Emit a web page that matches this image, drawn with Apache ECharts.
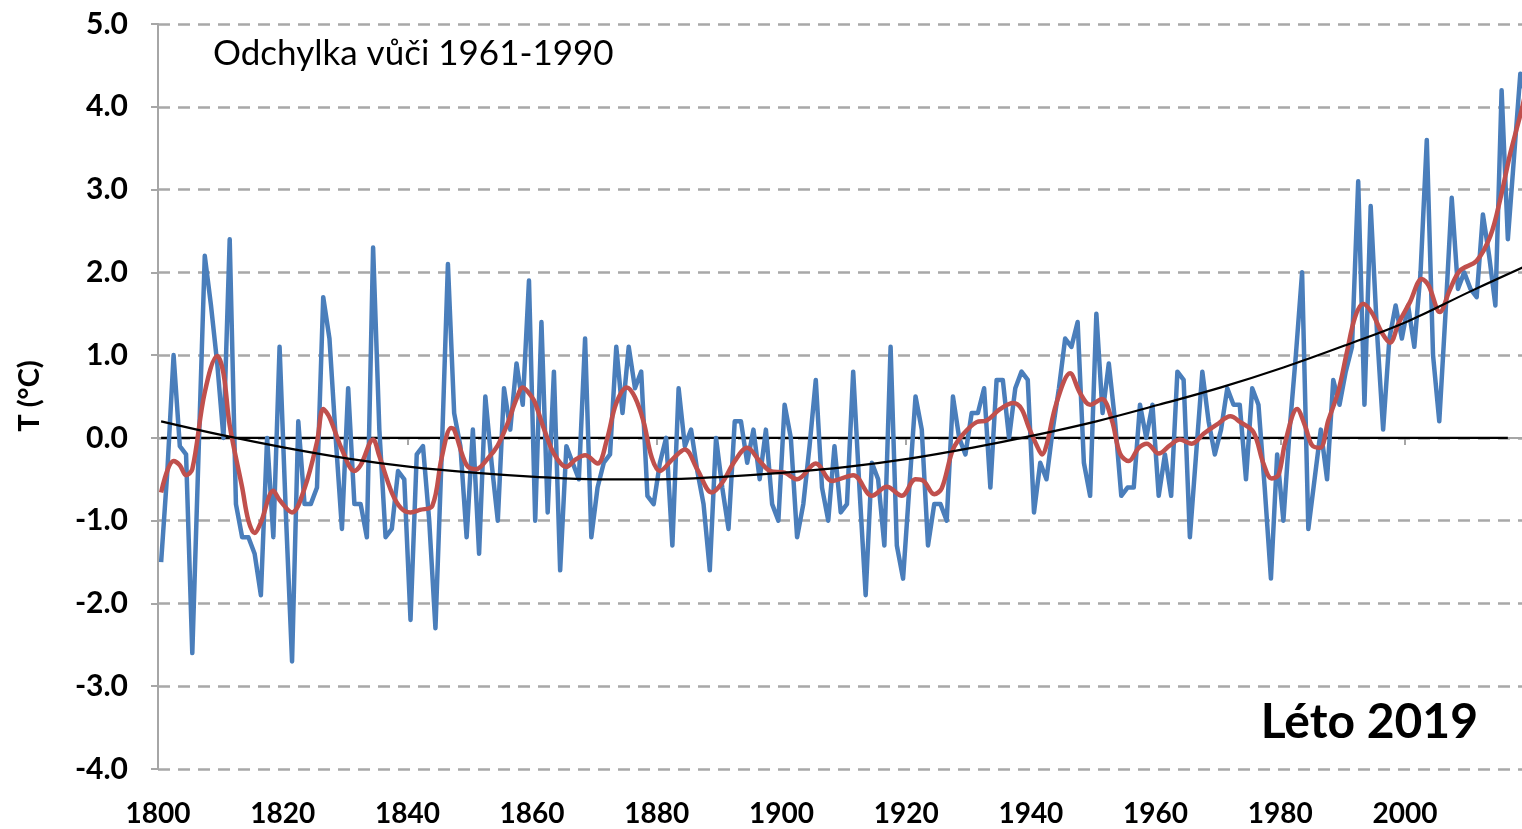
<!DOCTYPE html>
<html>
<head>
<meta charset="utf-8">
<script src="https://cdn.jsdelivr.net/npm/echarts@6/dist/echarts.min.js"></script>
<style>
  html, body { margin: 0; padding: 0; background: #ffffff; overflow: hidden; }
  #chart { width: 1522px; height: 829px; }
</style>
</head>
<body>
<div id="chart"></div>
<script>
// Summer temperature anomaly (°C) relative to 1961-1990, one value per year from 1800
const firstYear = 1800;
const summerAnomaly = [
  -1.5, -0.4, 1.0, -0.1, -0.2, -2.6, -0.2, 2.2, 1.6, 0.9,
  0.0, 2.4, -0.8, -1.2, -1.2, -1.4, -1.9, 0.0, -1.2, 1.1,
  -0.9, -2.7, 0.2, -0.8, -0.8, -0.6, 1.7, 1.2, 0.0, -1.1,
  0.6, -0.8, -0.8, -1.2, 2.3, 0.1, -1.2, -1.1, -0.4, -0.5,
  -2.2, -0.2, -0.1, -1.0, -2.3, -0.2, 2.1, 0.3, -0.1, -1.2,
  0.1, -1.4, 0.5, -0.3, -1.0, 0.6, 0.1, 0.9, 0.4, 1.9,
  -1.0, 1.4, -0.9, 0.8, -1.6, -0.1, -0.3, -0.5, 1.2, -1.2,
  -0.6, -0.3, -0.2, 1.1, 0.3, 1.1, 0.6, 0.8, -0.7, -0.8,
  -0.3, 0.0, -1.3, 0.6, -0.1, 0.1, -0.4, -0.8, -1.6, 0.0,
  -0.6, -1.1, 0.2, 0.2, -0.3, 0.1, -0.5, 0.1, -0.8, -1.0,
  0.4, 0.0, -1.2, -0.8, -0.1, 0.7, -0.6, -1.0, -0.1, -0.9,
  -0.8, 0.8, -0.6, -1.9, -0.3, -0.5, -1.3, 1.1, -1.3, -1.7,
  -0.6, 0.5, 0.1, -1.3, -0.8, -0.8, -1.0, 0.5, 0.0, -0.2,
  0.3, 0.3, 0.6, -0.6, 0.7, 0.7, 0.0, 0.6, 0.8, 0.7,
  -0.9, -0.3, -0.5, 0.1, 0.6, 1.2, 1.1, 1.4, -0.3, -0.7,
  1.5, 0.3, 0.9, 0.2, -0.7, -0.6, -0.6, 0.4, 0.0, 0.4,
  -0.7, -0.2, -0.7, 0.8, 0.7, -1.2, -0.2, 0.8, 0.2, -0.2,
  0.1, 0.6, 0.4, 0.4, -0.5, 0.6, 0.4, -0.6, -1.7, -0.2,
  -1.0, 0.1, 1.0, 2.0, -1.1, -0.5, 0.1, -0.5, 0.7, 0.4,
  0.8, 1.1, 3.1, 0.4, 2.8, 1.3, 0.1, 1.2, 1.6, 1.2,
  1.6, 1.1, 2.0, 3.6, 1.0, 0.2, 1.5, 2.9, 1.8, 2.0,
  1.8, 1.7, 2.7, 2.2, 1.6, 4.2, 2.4, 3.4, 4.4, 4.1
];

// Smoothed (low-pass filtered) anomaly, read at these years
const smoothYears = [
  1800, 1802, 1803, 1804, 1805, 1807, 1809, 1810, 1811, 1813, 1814, 1815, 1816, 1818, 1819,
  1821, 1823, 1825, 1826, 1827, 1829, 1831, 1832, 1834, 1835, 1837, 1838.5, 1840, 1841.5, 1843.5,
  1845, 1846.5, 1847, 1849, 1850.5, 1852.5, 1854, 1855.5, 1857, 1858, 1859.5, 1860, 1861.5, 1863,
  1865, 1866.5, 1868, 1870, 1871.5, 1873, 1874.7, 1876, 1877.4, 1878.7, 1880, 1882, 1884, 1886,
  1888.3, 1890, 1892, 1894, 1896, 1897.7, 1900, 1902, 1905, 1907.6, 1911, 1914, 1916.4, 1918.8,
  1921, 1922.3, 1924, 1925.2, 1927, 1928.7, 1930.8, 1932.4, 1934.6, 1936.7, 1938, 1939.1, 1940.5,
  1941.3, 1942, 1943.6, 1945.8, 1947.4, 1949, 1950.9, 1952.5, 1953.8, 1955.2, 1956.8, 1958.1, 1960,
  1961.8, 1963.4, 1965.3, 1967.2, 1969.3, 1971.5, 1973.1, 1975.2, 1976.8, 1978.1, 1979.2, 1980.3,
  1982.2, 1983.5, 1984.6, 1985.9, 1987.2, 1988.8, 1990.2, 1991.5, 1992.8, 1994.2, 1995.8, 1997.1,
  1998.5, 2000.3, 2002.2, 2003.3, 2005.1, 2006.7, 2008.3, 2011, 2013.2, 2014.8, 2016.4, 2018.3, 2019
];
const smoothValues = [
  -0.66, -0.28, -0.33, -0.45, -0.38, 0.55, 0.99, 0.78, 0.15, -0.6, -1.0, -1.15, -1.02, -0.64, -0.75,
  -0.9, -0.61, -0.05, 0.35, 0.25, -0.14, -0.4, -0.33, -0.02, -0.22, -0.66, -0.85, -0.9, -0.87, -0.82,
  -0.24, 0.12, 0.1, -0.33, -0.38, -0.24, -0.09, 0.16, 0.47, 0.61, 0.49, 0.42, 0.09, -0.19,
  -0.35, -0.26, -0.21, -0.31, -0.02, 0.42, 0.61, 0.49, 0.19, -0.24, -0.4, -0.26, -0.14, -0.38,
  -0.66, -0.54, -0.28, -0.12, -0.28, -0.4, -0.42, -0.5, -0.31, -0.52, -0.45, -0.7, -0.59, -0.7,
  -0.5, -0.52, -0.68, -0.61, -0.14, 0.05, 0.19, 0.21, 0.35, 0.42, 0.35, 0.14, -0.1,
  -0.2, -0.09, 0.42, 0.78, 0.54, 0.4, 0.47, 0.21, -0.19, -0.28, -0.12, -0.07, -0.19,
  -0.09, -0.02, -0.07, 0.05, 0.16, 0.26, 0.19, 0.07, -0.31, -0.49, -0.45, -0.05,
  0.35, 0.14, -0.09, -0.12, 0.21, 0.56, 1.04, 1.46, 1.62, 1.51, 1.27, 1.15,
  1.39, 1.64, 1.92, 1.84, 1.52, 1.79, 2.02, 2.14, 2.44, 2.89, 3.44, 3.99, 4.25
];

// Long-term polynomial trend, read every ten years
const trendYears  = [1800, 1810, 1820, 1830, 1840, 1850, 1860, 1870, 1880, 1890, 1900, 1910,
                     1920, 1930, 1940, 1950, 1960, 1970, 1980, 1990, 2000, 2010, 2019];
const trendValues = [0.2, 0.03, -0.12, -0.25, -0.35, -0.42, -0.47, -0.5, -0.5, -0.47, -0.42, -0.35,
                     -0.25, -0.12, 0.03, 0.2, 0.4, 0.61, 0.85, 1.12, 1.41, 1.77, 2.08];

// Reference (zero) line span
const zeroYears = [1800, 2016];

// Axis labels
const xTickYears = [1800, 1820, 1840, 1860, 1880, 1900, 1920, 1940, 1960, 1980, 2000];
const yMin = -4, yMax = 5;

const subtitleText = 'Odchylka vůči 1961-1990';
const seasonText = 'Léto 2019';
const yAxisTitle = 'T (°C)';

const anomalyData = summerAnomaly.map((v, i) => [firstYear + i, v]);
const smoothData = smoothYears.map((y, i) => [y, smoothValues[i]]);
const trendData = trendYears.map((y, i) => [y, trendValues[i]]);
const zeroData = zeroYears.map(y => [y, 0]);

const FONT = 'Lato, "Open Sans", sans-serif';

const chart = echarts.init(document.getElementById('chart'), null, { renderer: 'canvas' });
chart.setOption({
  animation: false,
  backgroundColor: '#ffffff',
  grid: { left: 158, right: 0, top: 24, bottom: 60, containLabel: false },
  xAxis: {
    type: 'value',
    min: 1799.5,
    max: 2018.27,
    interval: 20,
    axisLine: { show: true, lineStyle: { color: '#a6a6a6', width: 2 } },
    axisTick: { show: true, length: 7, lineStyle: { color: '#a6a6a6', width: 2 } },
    splitLine: { show: false },
    axisLabel: {
      show: true,
      margin: 31,
      color: '#000000',
      fontFamily: FONT,
      fontWeight: 'bold',
      fontSize: 28,
      showMaxLabel: false,
      formatter: function (v) {
        const yr = Math.round(v + 0.5);
        return xTickYears.indexOf(yr) >= 0 && Math.abs(v + 0.5 - yr) < 0.01 ? String(yr) : '';
      }
    }
  },
  yAxis: {
    type: 'value',
    min: yMin,
    max: yMax,
    interval: 1,
    axisLine: { show: true, lineStyle: { color: '#a6a6a6', width: 2 } },
    axisTick: { show: true, length: 7, lineStyle: { color: '#a6a6a6', width: 2 } },
    splitLine: { show: true, lineStyle: { color: '#a8a8a8', width: 2.5, type: [12, 8] } },
    axisLabel: {
      margin: 30,
      color: '#000000',
      fontFamily: FONT,
      fontWeight: 'bold',
      fontSize: 30,
      formatter: v => v.toFixed(1)
    }
  },
  series: [
    {
      name: 'zero',
      type: 'line',
      data: zeroData,
      symbol: 'none',
      lineStyle: { color: '#000000', width: 2.2 },
      z: 2
    },
    {
      name: 'anomaly',
      type: 'line',
      data: anomalyData,
      symbol: 'none',
      clip: true,
      lineStyle: { color: '#4a7ebb', width: 4.5, join: 'round' },
      z: 3
    },
    {
      name: 'smooth',
      type: 'line',
      data: smoothData,
      symbol: 'none',
      smooth: 0.35,
      clip: true,
      lineStyle: { color: '#c0504d', width: 4.5 },
      z: 4
    },
    {
      name: 'trend',
      type: 'line',
      data: trendData,
      symbol: 'none',
      smooth: 0.4,
      clip: true,
      lineStyle: { color: '#000000', width: 2.2 },
      z: 5
    }
  ],
  graphic: [
    {
      type: 'text',
      left: 213,
      top: 36,
      style: { text: subtitleText, font: '35px ' + FONT, fill: '#000000' },
      z: 10
    },
    {
      type: 'text',
      right: 44,
      top: 699,
      style: { text: seasonText, font: 'bold 48px ' + FONT, fill: '#000000' },
      z: 10
    },
    {
      type: 'text',
      x: 30,
      y: 396,
      rotation: Math.PI / 2,
      style: {
        text: yAxisTitle, font: 'bold 29px ' + FONT, fill: '#000000',
        align: 'center', verticalAlign: 'middle'
      },
      z: 10
    }
  ]
});
</script>
</body>
</html>
